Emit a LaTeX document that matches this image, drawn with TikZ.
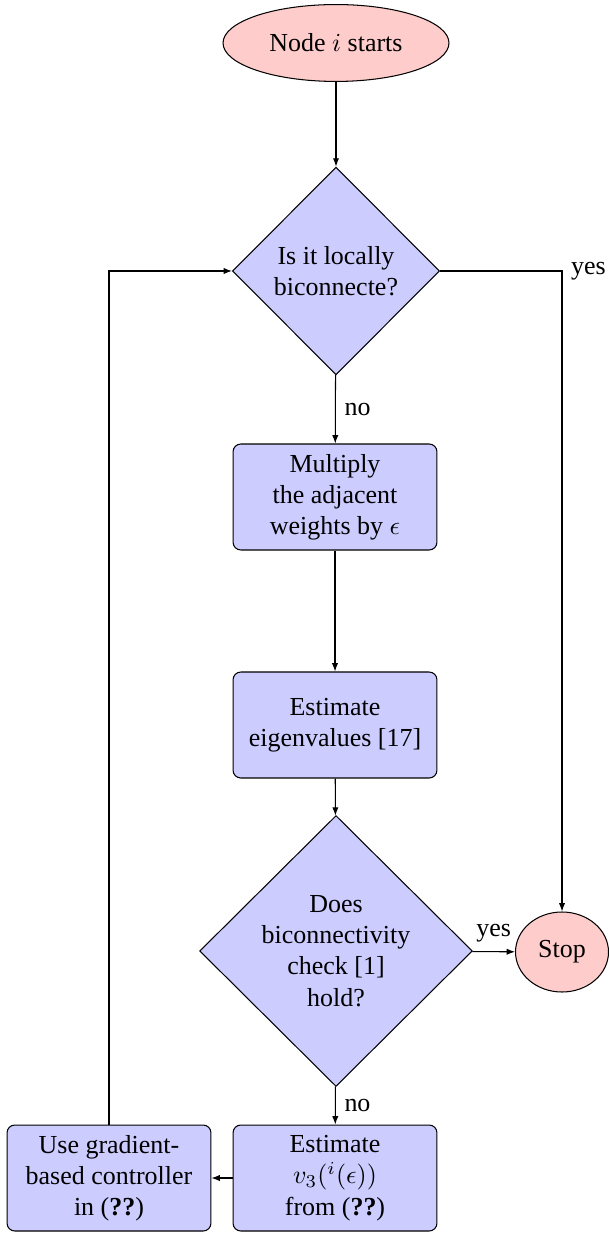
\documentclass[tikz,border=0pt]{standalone}
\usepackage{fontspec}
\setmainfont{Liberation Serif}
\usetikzlibrary{shapes.geometric,arrows.meta}
\begin{document}
\begin{tikzpicture}[x=0.385pt,y=-0.385pt,
  font=\fontsize{10pt}{12pt}\selectfont,
  startstop/.style={ellipse,draw,fill=red!20,inner sep=0pt,align=center},
  decision/.style={diamond,draw,fill=blue!20,inner sep=0pt,align=center,aspect=1},
  block/.style={rectangle,draw,fill=blue!20,rounded corners=3pt,inner sep=0pt,
     minimum width=78.5pt,minimum height=40.8pt,align=center},
  arr/.style={draw,-{Latex[length=3.2pt,width=2.4pt]}},
  ln/.style={draw}]
\useasboundingbox (0,0) rectangle (608,1233);
\node[startstop,minimum width=87pt,minimum height=29.6pt] (init) at (336,43) {Node $i$ starts};
\node[decision,minimum width=79.7pt,minimum height=80pt] (d1) at (336,271) {Is it locally\\biconnecte?};
\node[block] (b1) at (335,497) {Multiply\\the adjacent\\weights by $\epsilon$};
\node[block] (b2) at (335,725) {Estimate\\eigenvalues [17]};
\node[decision,minimum width=105pt,minimum height=104.3pt] (d2) at (336,951) {Does\\biconnectivity\\check [1]\\hold?};
\node[startstop,minimum width=35.8pt,minimum height=30.8pt] (stop) at (562,952) {Stop};
\node[block] (b3) at (335,1178) {Estimate\\$v_3({}^i(\epsilon))$\\from (\textbf{??})};
\node[block] (b4) at (109,1178) {Use gradient-\\based controller\\in (\textbf{??})};
\draw[arr] (init) -- (d1);
\draw[arr] (d1) -- node[right] {no} (b1);
\draw[arr] (b1) -- (b2);
\draw[arr] (b2) -- (d2);
\draw[arr] (d2) -- node[above] {yes} (stop);
\draw[arr] (d2) -- node[right] {no} (b3);
\draw[arr] (b3) -- (b4);
\draw[arr] (d1.east) -| node[pos=0.5,right] {yes} (stop.north);
\draw[arr] (b4.north) |- (d1.west);
\end{tikzpicture}
\end{document}
